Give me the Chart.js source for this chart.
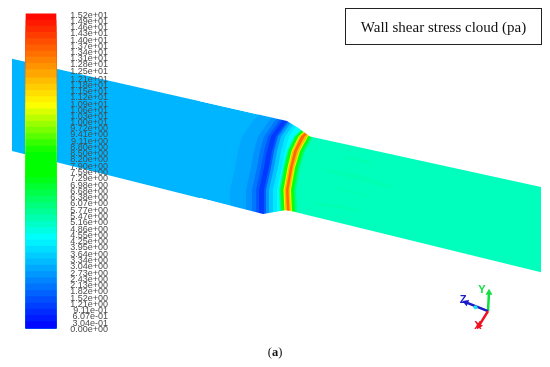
<!DOCTYPE html>
<html>
<head>
<meta charset="utf-8">
<title>Wall shear stress cloud</title>
<script src="https://cdn.jsdelivr.net/npm/chart.js@4"></script>
<style>
    html, body { margin: 0; padding: 0; background: #fff; }
    #wrap { position: relative; width: 550px; height: 367px; overflow: hidden; }
    #myChart { filter: blur(0.45px); }
    #legendBox {
        position: absolute; left: 345px; top: 8px; width: 195px; height: 35px;
        border: 1.5px solid #222; text-align: center;
        font: 15px/36px "Liberation Serif", serif; color: #111;
    }
    #caption {
        position: absolute; left: 0; width: 550px; top: 345px; text-align: center;
        font: 12.5px "Liberation Serif", serif; color: #111;
    }
</style>
</head>
<body>
<div id="wrap">
    <canvas id="myChart" width="550" height="367"></canvas>
    <div id="legendBox">Wall shear stress cloud (pa)</div>
    <div id="caption">(<b>a</b>)</div>
</div>
<script>
// colour bar tick labels, top to bottom
var barLabels = [
    "1.52e+01", "1.49e+01", "1.46e+01", "1.43e+01", "1.40e+01", "1.37e+01", "1.34e+01", "1.31e+01", "1.28e+01", "1.25e+01",
    "1.21e+01", "1.18e+01", "1.15e+01", "1.12e+01", "1.09e+01", "1.06e+01", "1.03e+01", "1.00e+01", "9.72e+00", "9.41e+00",
    "9.11e+00", "8.80e+00", "8.50e+00", "8.20e+00", "7.90e+00", "7.59e+00", "7.29e+00", "6.98e+00", "6.68e+00", "6.38e+00",
    "6.07e+00", "5.77e+00", "5.47e+00", "5.16e+00", "4.86e+00", "4.55e+00", "4.25e+00", "3.95e+00", "3.64e+00", "3.34e+00",
    "3.04e+00", "2.73e+00", "2.43e+00", "2.13e+00", "1.82e+00", "1.52e+00", "1.21e+00", "9.11e-01", "6.07e-01", "3.04e-01",
    "0.00e+00"
];

// rainbow stops: fraction of the range, r, g, b
var rampStops = [
    [0, 0, 0, 255],
    [0.287, 0, 255, 255],
    [0.487, 0, 255, 0],
    [0.557, 0, 255, 0],
    [0.71, 255, 255, 0],
    [1, 255, 0, 0]
];

// pipe outline
var pipeX = [12, 287, 298, 310, 541, 541, 292, 285, 263, 12];
var pipeY = [55, 119, 126, 135, 187, 275, 212, 211, 215, 150];

// white areas above and below the neck
var maskTopX = [200, 287, 298, 310, 541, 541, 200];
var maskTopY = [98.7, 119, 126, 135, 187, 85, 85];
var maskBottomX = [200, 263, 285, 292, 541, 541, 200];
var maskBottomY = [198.1, 215, 211, 212, 275, 320, 320];

// contour lines across the neck: x at each row, stress level of the area right of the line
var contourRows = [105, 119, 135, 150, 167, 190, 214, 225];
var contourLevels = [2.85, 2.5, 2.0, 1.5, 1.0, 1.6, 2.6, 3.4, 4.0, 4.4, 5.6, 7.0, 8.6, 10.5, 12, 13.4, 12, 10.5, 8.6, 7, 6, 5.15];
var contourX = [
    [264, 253, 242, 238, 235, 230, 230, 230],
    [280, 269, 258, 254, 251, 246, 246, 246],
    [286, 275, 264, 260, 257, 252, 252, 252],
    [290, 279, 268, 264, 261, 256, 256, 256],
    [293, 282, 271, 267, 264, 259, 259, 259],
    [298, 287, 276, 272, 269, 264, 264, 264],
    [300, 289, 278, 274, 271, 266, 266, 266],
    [303, 292, 281, 277, 274, 269, 269, 269],
    [307, 296, 285, 281, 278, 273, 273, 273],
    [311, 300, 289, 285, 282, 277, 277, 277],
    [322, 310, 294, 287, 283, 279, 280, 281],
    [323.5, 311.5, 295.5, 288.5, 284.5, 280.5, 281.5, 282.5],
    [325, 313, 297, 290, 286, 282, 283, 284],
    [326.5, 314.5, 298.5, 291.5, 287.5, 283.5, 284.5, 285.5],
    [327.5, 315.5, 299.5, 292.5, 288.5, 284.5, 285.5, 286.5],
    [329, 317, 301, 294, 290, 286, 287, 288],
    [332.5, 320.5, 304.5, 297, 292.5, 288.5, 289.5, 290.5],
    [335, 323, 307, 299, 294, 290, 291, 292],
    [336, 324, 308, 300, 295, 291, 292, 293],
    [337.5, 325.5, 309.5, 301.5, 296.5, 292.5, 293.5, 294.5],
    [339, 327, 311, 303, 298, 294, 295, 296],
    [341, 329, 313, 305, 300, 296, 297, 298]
];
var pipeBaseLevel = 3.1;

// faint greener streaks along the right pipe
var streakLevel = 5.28;
var streakX = [
    [327, 360, 392, 388, 356, 327],
    [330, 365, 370, 335],
    [317, 357, 355, 316],
    [347, 372, 370, 346]
];
var streakY = [
    [168, 175, 186, 188, 179, 172],
    [187, 194, 197, 190],
    [203, 209, 211, 206],
    [155, 161, 164, 158]
];

// axis triad: origin, then the tips
var triadOrigin = [488, 315];
var triadTips = [[489, 296], [466, 306], [479, 330]];
var triadNames = ["Y", "Z", "X"];
var triadLabelAt = [[482, 293], [463, 304], [478, 330]];
var triadColors = ["#10e040", "#1a1ac8", "#f01020"];
var triadRotation = [0, -68, -150];

var barLevels = barLabels.map(function (s) { return parseFloat(s); });
var topLevel = 15.19;

function levelColor(v) {
    var t = Math.min(1, Math.max(0, v / topLevel));
    for (var i = 1; i < rampStops.length; i++) {
        if (t <= rampStops[i][0]) {
            var a = rampStops[i - 1], b = rampStops[i];
            var f = (t - a[0]) / (b[0] - a[0]);
            return "rgb(" + Math.round(a[1] + (b[1] - a[1]) * f) + "," + Math.round(a[2] + (b[2] - a[2]) * f) + "," + Math.round(a[3] + (b[3] - a[3]) * f) + ")";
        }
    }
    return "rgb(255,0,0)";
}

function toPoints(xs, ys) {
    return xs.map(function (x, i) { return { x: x, y: ys[i] }; });
}

var datasets = [];

function addArea(points, color) {
    datasets.push({
        type: "line",
        data: points,
        fill: "shape",
        backgroundColor: color,
        borderColor: "transparent",
        borderWidth: 0,
        pointRadius: 0,
        tension: 0,
        order: -datasets.length
    });
}

addArea(toPoints(pipeX, pipeY), levelColor(pipeBaseLevel));

contourX.forEach(function (xs, i) {
    var pts = toPoints(xs, contourRows);
    pts.push({ x: 541, y: 320 }, { x: 541, y: 85 });
    addArea(pts, levelColor(contourLevels[i]));
});

streakX.forEach(function (xs, i) {
    addArea(toPoints(xs, streakY[i]), levelColor(streakLevel));
});

addArea(toPoints(maskTopX, maskTopY), "#fff");
addArea(toPoints(maskBottomX, maskBottomY), "#fff");

// colour bar, tallest bar first so each step paints over the last
datasets.push({
    type: "bar",
    yAxisID: "value",
    data: barLevels.slice(0, 50).map(function (v) { return { x: 41, y: v }; }),
    backgroundColor: barLevels.slice(0, 50).map(function (v, i) { return levelColor((v + barLevels[i + 1]) / 2); }),
    barThickness: 30,
    borderWidth: 0,
    order: -datasets.length
});

triadNames.forEach(function (name, i) {
    datasets.push({
        type: "line",
        data: [{ x: triadOrigin[0], y: triadOrigin[1] }, { x: triadTips[i][0], y: triadTips[i][1] }],
        borderColor: triadColors[i],
        backgroundColor: triadColors[i],
        borderWidth: 2.5,
        fill: false,
        tension: 0,
        pointStyle: "triangle",
        pointRadius: [0, 4],
        pointBorderWidth: 0,
        pointRotation: [0, triadRotation[i]],
        axisName: name,
        axisNameAt: triadLabelAt[i],
        order: -datasets.length
    });
});

// little cyan marker on the Z arm
datasets.push({
    type: "line",
    data: [{ x: 475.5, y: 311 }],
    pointRadius: 2,
    pointBackgroundColor: "#20e0f0",
    pointBorderWidth: 0,
    showLine: false,
    order: -datasets.length
});

var triadNamesPlugin = {
    id: "triadNames",
    afterDatasetsDraw: function (chart) {
        var ctx = chart.ctx;
        ctx.save();
        ctx.font = "bold 11px 'Liberation Sans'";
        ctx.textAlign = "center";
        ctx.textBaseline = "middle";
        chart.data.datasets.forEach(function (d) {
            if (!d.axisName) return;
            ctx.fillStyle = d.borderColor;
            ctx.fillText(d.axisName, chart.scales.x.getPixelForValue(d.axisNameAt[0]), chart.scales.y.getPixelForValue(d.axisNameAt[1]));
        });
        ctx.restore();
    }
};

new Chart("myChart", {
    data: { datasets: datasets },
    plugins: [triadNamesPlugin],
    options: {
        responsive: false,
        animation: false,
        layout: { padding: 0, autoPadding: false },
        plugins: { legend: { display: false }, tooltip: { enabled: false }, title: { display: false } },
        scales: {
            x: { type: "linear", min: 0, max: 550, offset: false, display: false },
            y: { type: "linear", min: 0, max: 367, reverse: true, display: false },
            value: {
                type: "linear",
                position: { x: 108 },
                min: -1.627,
                max: 15.606,
                grid: { display: false },
                border: { display: false },
                afterBuildTicks: function (axis) {
                    axis.ticks = barLevels.map(function (v) { return { value: v }; });
                },
                ticks: {
                    z: 1,
                    autoSkip: false,
                    padding: 0,
                    labelOffset: 1.5,
                    color: "#4a4a4a",
                    font: { family: "'Liberation Sans'", size: 9 },
                    callback: function (value, index) { return barLabels[index]; }
                }
            }
        }
    }
});
</script>
</body>
</html>
